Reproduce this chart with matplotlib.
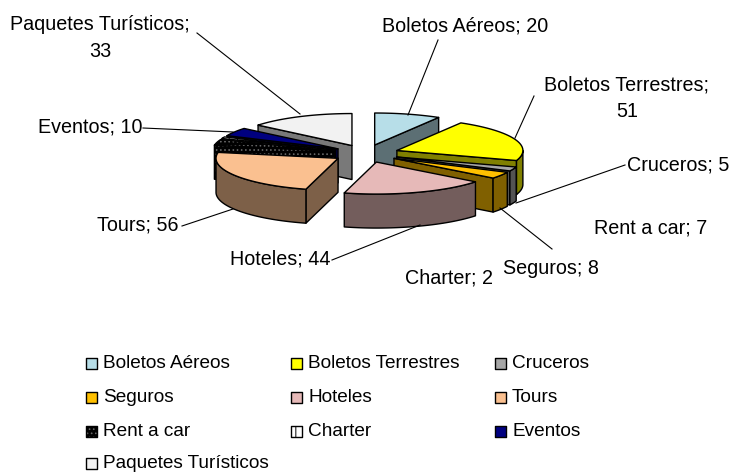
import numpy as np
import matplotlib
matplotlib.use("Agg")
import matplotlib.pyplot as plt
from matplotlib.colors import to_rgb
from matplotlib.patches import Polygon

categories = ["Boletos Aéreos", "Boletos Terrestres", "Cruceros", "Seguros", "Hoteles",
              "Tours", "Rent a car", "Charter", "Eventos", "Paquetes Turísticos"]
values = [20, 51, 5, 8, 44, 56, 7, 2, 10, 33]
colors = ["#B7DEE8", "#FFFF00", "#A6A6A6", "#FFC000", "#E6B9B8",
          "#FAC090", "#000000", "#FFFFFF", "#000080", "#F2F2F2"]
hatches = {"Rent a car": ("#666666", "...."), "Charter": ("black", "||")}

plt.rcParams["font.family"] = ["Liberation Sans", "DejaVu Sans"]
plt.rcParams["hatch.linewidth"] = 0.7
FS_LABEL = 14.2
FS_LEGEND = 13.7

CX, CY, RY = 366, 153.6, 32
RX_RIGHT, RX_LEFT = 126, 122
EX, EY, H = 33, 8.9, 34

fig = plt.figure(figsize=(7.32, 4.72), dpi=100)
ax = fig.add_axes([0, 0, 1, 1])
ax.set_xlim(0, 732)
ax.set_ylim(472, 0)
ax.axis("off")


def point(ax0, ay0, deg):
    t = np.radians(deg)
    s = np.sin(t)
    return ax0 + (RX_RIGHT if s >= 0 else RX_LEFT) * s, ay0 - RY * np.cos(t)


def arc(ax0, ay0, a, b):
    ts = np.linspace(a, b, max(int(abs(b - a)) * 2, 2))
    return [point(ax0, ay0, d) for d in ts]


def draw_poly(pts, color, name, z):
    if name in hatches:
        hc, h = hatches[name]
        ax.add_patch(Polygon(pts, closed=True, facecolor=color, edgecolor=hc, hatch=h, lw=0, zorder=z))
        ax.add_patch(Polygon(pts, closed=True, fill=False, edgecolor="black", lw=1.0, zorder=z, joinstyle="round"))
    else:
        ax.add_patch(Polygon(pts, closed=True, facecolor=color, edgecolor="black", lw=1.0, zorder=z, joinstyle="round"))


total = sum(values)
edges = np.concatenate([[0], np.cumsum(values)]) * 360.0 / total
slices = []
for i, name in enumerate(categories):
    a, b = edges[i], edges[i + 1]
    mid = np.radians((a + b) / 2)
    ox, oy = CX + EX * np.sin(mid), CY - EY * np.cos(mid)
    slices.append((oy, i, a, b, ox))
slices.sort()

z = 2
for oy, i, a, b, ox in slices:
    name = categories[i]
    c = colors[i]
    dark = tuple(0.5 * v for v in to_rgb(c))
    for th, visible in ((a, np.sin(np.radians(a)) < 0), (b, np.sin(np.radians(b)) > 0)):
        if visible:
            p = point(ox, oy, th)
            draw_poly([(ox, oy), p, (p[0], p[1] + H), (ox, oy + H)], dark, name, z)
            z += 1
    lo, hi = max(a, 90), min(b, 270)
    if hi > lo:
        top = arc(ox, oy, lo, hi)
        bottom = [(x, y + H) for x, y in reversed(top)]
        draw_poly(top + bottom, dark, name, z)
        z += 1
    draw_poly([(ox, oy)] + arc(ox, oy, a, b), c, name, z)
    z += 1

# data labels
labels = [
    (465, 26, "Boletos Aéreos; 20"),
    (627, 98.5, "Boletos Terrestres;\n51"),
    (100, 38, "Paquetes Turísticos;\n33"),
    (90, 127, "Eventos; 10"),
    (138, 225, "Tours; 56"),
    (280, 259, "Hoteles; 44"),
    (449, 278, "Charter; 2"),
    (551, 268, "Seguros; 8"),
    (651, 228, "Rent a car; 7"),
    (678, 165, "Cruceros; 5"),
]
for x, y, s in labels:
    ax.text(x, y, s, ha="center", va="center", fontsize=FS_LABEL, color="black", linespacing=1.48, zorder=50)

leaders = [
    ((438, 40), (408, 115)),
    ((534, 96), (515, 138)),
    ((197, 33), (300, 114)),
    ((143, 128), (233, 132)),
    ((182, 226), (233, 209)),
    ((332, 260), (420, 225)),
    ((552, 249), (500, 208)),
    ((625, 165), (516, 203)),
]
for (x0, y0), (x1, y1) in leaders:
    ax.plot([x0, x1], [y0, y1], color="black", lw=0.8, zorder=40)

# legend, row by row
col_x = [86, 291, 495]
row_y = [363, 397, 431, 463]
for i, name in enumerate(categories):
    x = col_x[i % 3]
    y = row_y[i // 3]
    rect = [(x, y - 5.5), (x + 11, y - 5.5), (x + 11, y + 5.5), (x, y + 5.5)]
    draw_poly(rect, colors[i], name, 60)
    ax.text(x + 17, y, name, ha="left", va="center", fontsize=FS_LEGEND, color="black", zorder=60)

fig.savefig("out.png", dpi=100)
